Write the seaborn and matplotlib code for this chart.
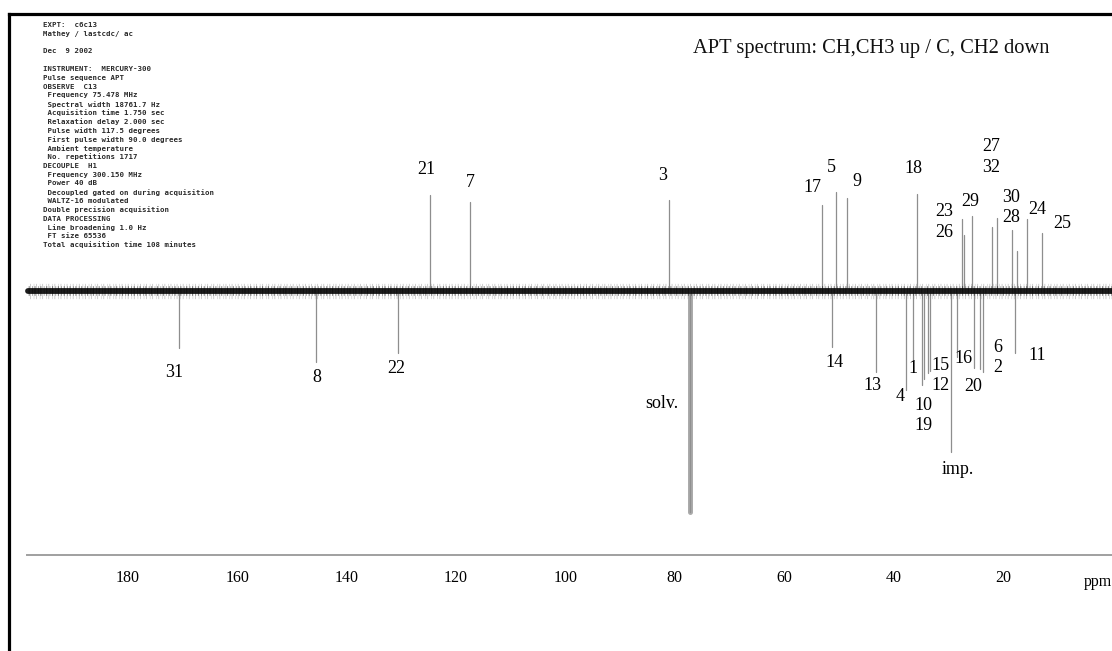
import numpy as np
import pandas as pd
import matplotlib
matplotlib.use("Agg")
import matplotlib.pyplot as plt
from matplotlib.lines import Line2D
from matplotlib.ticker import MultipleLocator
import seaborn as sns

# ---------------------------------------------------------------- data ----
# CH / CH3 carbons: positive phase
up_labels = ["21", "7", "3", "17", "5", "9", "18", "23", "26", "29",
             "27", "32", "30", "28", "24", "25"]
up_ppm = [124.8, 117.4, 81.1, 53.1, 50.5, 48.5, 35.7, 27.5, 27.2, 25.7,
          22.0, 21.1, 18.3, 17.4, 15.6, 12.9]
up_height = [96, 89, 91, 86, 99, 93, 97, 72, 56, 75,
             64, 73, 61, 40, 72, 58]

# C / CH2 carbons: negative phase
down_labels = ["31", "8", "22", "14", "13", "4", "1", "10", "19", "15",
               "12", "16", "20", "6", "2", "11"]
down_ppm = [170.6, 145.6, 130.6, 51.3, 43.2, 37.7, 36.5, 34.8, 34.5, 33.7,
            33.4, 28.4, 25.3, 24.2, 23.7, 17.8]
down_height = [-57, -71, -62, -56, -81, -99, -70, -94, -88, -82,
               -80, -66, -77, -78, -81, -62]

# solvent (CDCl3) and impurity signals
extra_labels = ["solv.", "imp."]
extra_ppm = [77.2, 29.5]
extra_height = [-221, -161]

# recorded spectral window and scale ticks
baseline_ppm = [198.2, 0.0]
axis_ticks = [180, 160, 140, 120, 100, 80, 60, 40, 20]

title = "APT spectrum: CH,CH3 up / C, CH2 down"

acq_params = [
    "EXPT:  c6c13", "Mathey / lastcdc/ ac", "", "Dec  9 2002", "",
    "INSTRUMENT:  MERCURY-300", "Pulse sequence APT", "OBSERVE  C13",
    " Frequency 75.478 MHz", " Spectral width 18761.7 Hz",
    " Acquisition time 1.750 sec", " Relaxation delay 2.000 sec",
    " Pulse width 117.5 degrees", " First pulse width 90.0 degrees",
    " Ambient temperature", " No. repetitions 1717", "DECOUPLE  H1",
    " Frequency 300.150 MHz", " Power 40 dB",
    " Decoupled gated on during acquisition", " WALTZ-16 modulated",
    "Double precision acquisition", "DATA PROCESSING",
    " Line broadening 1.0 Hz", " FT size 65536",
    "Total acquisition time 108 minutes",
]

# ----------------------------------------------------- label placement ----
label_pos = {
    "21": (125.5, 121), "7": (117.3, 108), "3": (82.2, 115),
    "17": (54.9, 103), "5": (51.3, 123), "9": (46.7, 109),
    "18": (36.3, 122), "27": (22.2, 144), "32": (22.2, 123),
    "23": (30.8, 79), "26": (30.8, 58), "29": (25.9, 89),
    "30": (18.5, 93), "28": (18.5, 73), "24": (13.8, 81),
    "25": (9.2, 67),
    "31": (171.6, -82), "8": (145.4, -87), "22": (130.9, -78),
    "14": (50.9, -72), "13": (43.9, -95), "1": (36.5, -78),
    "4": (38.8, -106), "10": (34.6, -115), "19": (34.6, -135),
    "15": (31.5, -75), "12": (31.5, -95), "16": (27.3, -68),
    "20": (25.5, -96), "6": (20.9, -57), "2": (20.9, -77),
    "11": (13.8, -65), "solv.": (82.4, -113), "imp.": (28.2, -179),
}

# ------------------------------------------------------------- tables ----
def sticks(labels, ppm, height):
    rows = []
    for lab, p, h in zip(labels, ppm, height):
        rows.append({"peak": lab, "ppm": p, "intensity": 0.0})
        rows.append({"peak": lab, "ppm": p, "intensity": float(h)})
    return pd.DataFrame(rows)

peaks = pd.concat([sticks(up_labels, up_ppm, up_height),
                   sticks(down_labels, down_ppm, down_height),
                   sticks(extra_labels[1:], extra_ppm[1:], extra_height[1:])],
                  ignore_index=True)
solvent = sticks(extra_labels[:1], extra_ppm[:1], extra_height[:1])
baseline = pd.DataFrame({"ppm": baseline_ppm, "intensity": [0.0, 0.0]})

# -------------------------------------------------------------- figure ----
sns.set_theme(style="white")
plt.rcParams["font.family"] = ["Liberation Serif", "DejaVu Serif"]
plt.rcParams["lines.scale_dashes"] = False

W, H = 1112, 651
fig = plt.figure(figsize=(W / 100, H / 100), dpi=100)
ax = fig.add_axes([0, 0, 1, 1])
ax.set_facecolor("white")

# peak sticks
sns.lineplot(data=peaks, x="ppm", y="intensity", units="peak",
             estimator=None, sort=False, color="#8e8e8e", linewidth=0.9,
             legend=False, ax=ax, zorder=2)
sns.lineplot(data=solvent, x="ppm", y="intensity", units="peak",
             estimator=None, sort=False, color="#ababab", linewidth=3.6,
             legend=False, ax=ax, zorder=2)
sns.lineplot(data=solvent, x="ppm", y="intensity", units="peak",
             estimator=None, sort=False, color="#909090", linewidth=1.0,
             legend=False, ax=ax, zorder=2)

# noisy baseline band
sns.lineplot(data=baseline, x="ppm", y="intensity", color="#6f6f6f",
             linewidth=11, alpha=0.4, ax=ax, zorder=3, legend=False)
ax.lines[-1].set_dashes([0.6, 1.3, 0.4, 2.1])
sns.lineplot(data=baseline, x="ppm", y="intensity", color="#1c1c1c",
             linewidth=4.2, ax=ax, zorder=4, legend=False)
sns.lineplot(data=baseline, x="ppm", y="intensity", color="#000000",
             linewidth=7, alpha=0.45, ax=ax, zorder=4, legend=False)
ax.lines[-1].set_dashes([0.5, 1.7, 0.8, 1.2])

# peak assignments
for lab, (px, py) in label_pos.items():
    ax.text(px, py, lab, ha="center", va="center", fontsize=13,
            color="#000000", zorder=5)

# axes geometry: 5.47 px per ppm, baseline 291 px from the top
ax.set_xlim((W + 0.4) / 5.47, 0.4 / 5.47)
ax.set_ylim(291 - H, 291)
ax.set_xlabel("")
ax.set_ylabel("")
ax.set_yticks([])
for side in ("left", "right", "top"):
    ax.spines[side].set_visible(False)
ax.spines["bottom"].set_position(("data", 291 - 555))
ax.spines["bottom"].set_bounds(198.4, 0.1)
ax.spines["bottom"].set_color("#a0a0a0")
ax.spines["bottom"].set_linewidth(1.4)
ax.set_xticks(axis_ticks)
ax.set_xticklabels([str(t) for t in axis_ticks])
ax.xaxis.set_minor_locator(MultipleLocator(2))
ax.tick_params(axis="x", which="major", direction="inout", length=5,
               width=0.9, color="#8a8a8a", labelsize=11.5, pad=8,
               labelcolor="#000000")
ax.tick_params(axis="x", which="minor", direction="inout", length=3,
               width=0.7, color="#a8a8a8")

def fx(px):
    return px / W

def fy(py):
    return 1 - py / H

fig.text(fx(1084), fy(582), "ppm", ha="left", va="center", fontsize=11.5,
         color="#000000")
fig.text(fx(871), fy(48), title, ha="center", va="center", fontsize=14.8,
         color="#111111")

# acquisition parameter block
y0, step = 25, 8.8
for i, line in enumerate(acq_params):
    if not line:
        continue
    fig.text(fx(43), fy(y0 + i * step), line, ha="left", va="center",
             fontsize=5.3, family="DejaVu Sans Mono", fontweight="bold",
             color="#2a2a2a")

# page frame
fig.add_artist(Line2D([fx(8.5), fx(8.5)], [0, fy(13.5)], color="black",
                      linewidth=2.3, solid_capstyle="projecting"))
fig.add_artist(Line2D([fx(8.5), 1], [fy(13.5), fy(13.5)], color="black",
                      linewidth=2.3, solid_capstyle="projecting"))

fig.savefig("out.png", dpi=100, facecolor="white")
